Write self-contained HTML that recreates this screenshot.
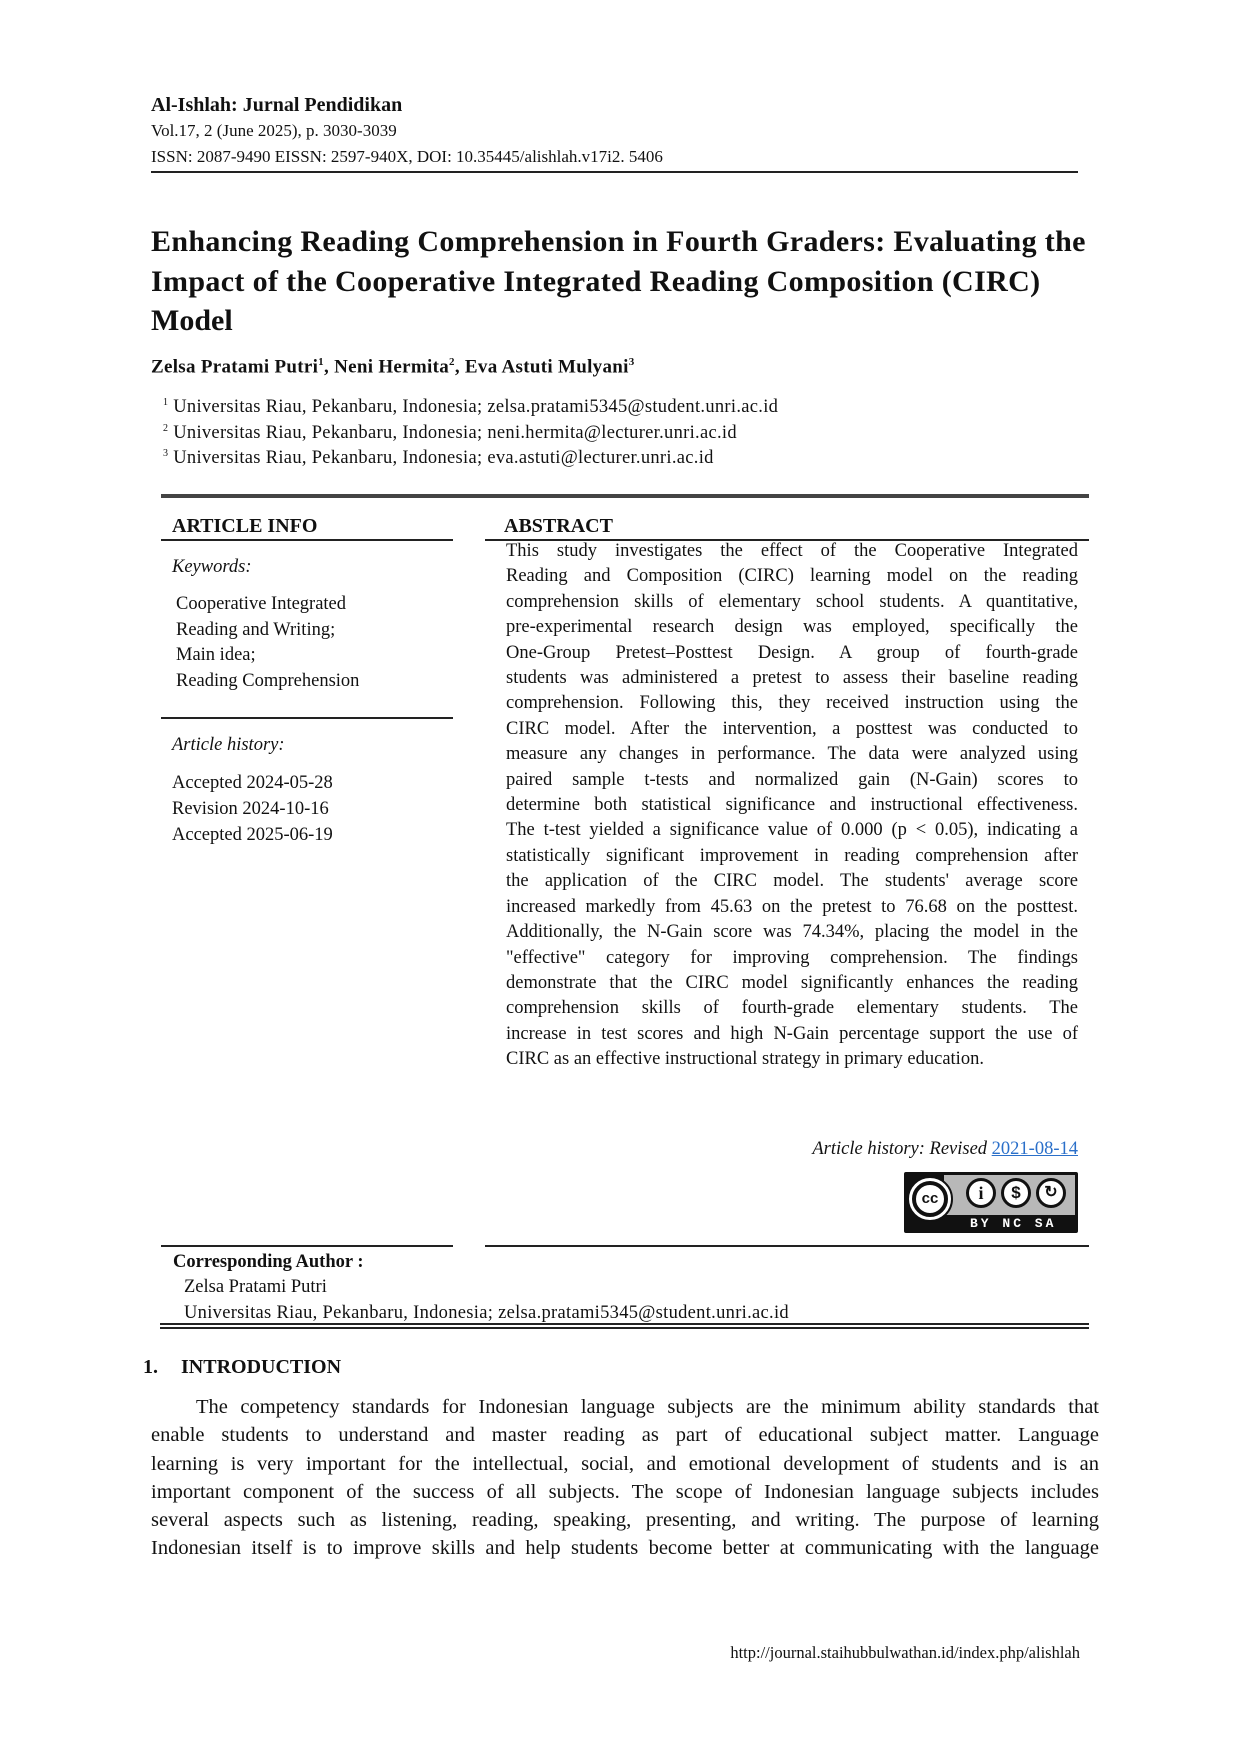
<!DOCTYPE html>
<html><head><meta charset="utf-8"><style>
body{margin:0;background:#fff;}
#p{position:relative;width:1240px;height:1754px;overflow:hidden;font-family:"Liberation Serif",serif;color:#111;}
.a{position:absolute;white-space:nowrap;line-height:1;}
.L{white-space:nowrap;text-align:justify;text-align-last:justify;}
.r{position:absolute;background:#222;}
</style></head><body><div id="p">
<div class="a" style="left:151px;top:95px;font-size:20px;font-weight:bold">Al-Ishlah: Jurnal Pendidikan</div>
<div class="a" style="left:151px;top:122px;font-size:17px">Vol.17, 2 (June 2025), p. 3030-3039</div>
<div class="a" style="left:151px;top:148px;font-size:17px">ISSN: 2087-9490 EISSN: 2597-940X, DOI: 10.35445/alishlah.v17i2. 5406</div>
<div class="r" style="left:151px;top:171px;width:927px;height:2px"></div>

<div class="a" style="left:151px;top:227px;font-size:30px;font-weight:bold;letter-spacing:0.35px">Enhancing Reading Comprehension in Fourth Graders: Evaluating the</div>
<div class="a" style="left:151px;top:267px;font-size:30px;font-weight:bold;letter-spacing:0.35px">Impact of the Cooperative Integrated Reading Composition (CIRC)</div>
<div class="a" style="left:151px;top:306px;font-size:30px;font-weight:bold">Model</div>

<div class="a" style="left:151px;top:357px;font-size:19px;font-weight:bold;letter-spacing:0.3px">Zelsa Pratami Putri<sup style="font-size:11px">1</sup>, Neni Hermita<sup style="font-size:11px">2</sup>, Eva Astuti Mulyani<sup style="font-size:11px">3</sup></div>
<div class="a" style="left:163px;top:398px;font-size:18.5px;letter-spacing:0.3px"><sup style="font-size:10px">1</sup> Universitas Riau, Pekanbaru, Indonesia; zelsa.pratami5345@student.unri.ac.id</div>
<div class="a" style="left:163px;top:424px;font-size:18.5px;letter-spacing:0.3px"><sup style="font-size:10px">2</sup> Universitas Riau, Pekanbaru, Indonesia; neni.hermita@lecturer.unri.ac.id</div>
<div class="a" style="left:163px;top:449px;font-size:18.5px;letter-spacing:0.3px"><sup style="font-size:10px">3</sup> Universitas Riau, Pekanbaru, Indonesia; eva.astuti@lecturer.unri.ac.id</div>

<div class="r" style="left:161px;top:494px;width:928px;height:4px;background:#444"></div>
<div class="a" style="left:172px;top:516px;font-size:20px;font-weight:bold">ARTICLE INFO</div>
<div class="a" style="left:504px;top:516px;font-size:20px;font-weight:bold">ABSTRACT</div>
<div class="r" style="left:161px;top:539px;width:292px;height:2px"></div>
<div class="r" style="left:485px;top:539px;width:604px;height:2px"></div>

<div class="a" style="left:172px;top:558px;font-size:18.5px;font-style:italic">Keywords:</div>
<div class="a" style="left:176px;top:595px;font-size:18.5px">Cooperative Integrated</div>
<div class="a" style="left:176px;top:621px;font-size:18.5px">Reading and Writing;</div>
<div class="a" style="left:176px;top:646px;font-size:18.5px">Main idea;</div>
<div class="a" style="left:176px;top:672px;font-size:18.5px">Reading Comprehension</div>
<div class="r" style="left:161px;top:717px;width:292px;height:2px"></div>
<div class="a" style="left:172px;top:736px;font-size:18.5px;font-style:italic">Article history:</div>
<div class="a" style="left:172px;top:774px;font-size:18.5px">Accepted 2024-05-28</div>
<div class="a" style="left:172px;top:800px;font-size:18.5px">Revision 2024-10-16</div>
<div class="a" style="left:172px;top:826px;font-size:18.5px">Accepted 2025-06-19</div>

<div style="position:absolute;left:506px;top:539px;width:572px;font-size:18.5px;line-height:25.4px">
<div class="L">This study investigates the effect of the Cooperative Integrated</div>
<div class="L">Reading and Composition (CIRC) learning model on the reading</div>
<div class="L">comprehension skills of elementary school students. A quantitative,</div>
<div class="L">pre-experimental research design was employed, specifically the</div>
<div class="L">One-Group Pretest–Posttest Design. A group of fourth-grade</div>
<div class="L">students was administered a pretest to assess their baseline reading</div>
<div class="L">comprehension. Following this, they received instruction using the</div>
<div class="L">CIRC model. After the intervention, a posttest was conducted to</div>
<div class="L">measure any changes in performance. The data were analyzed using</div>
<div class="L">paired sample t-tests and normalized gain (N-Gain) scores to</div>
<div class="L">determine both statistical significance and instructional effectiveness.</div>
<div class="L">The t-test yielded a significance value of 0.000 (p &lt; 0.05), indicating a</div>
<div class="L">statistically significant improvement in reading comprehension after</div>
<div class="L">the application of the CIRC model. The students' average score</div>
<div class="L">increased markedly from 45.63 on the pretest to 76.68 on the posttest.</div>
<div class="L">Additionally, the N-Gain score was 74.34%, placing the model in the</div>
<div class="L">"effective" category for improving comprehension. The findings</div>
<div class="L">demonstrate that the CIRC model significantly enhances the reading</div>
<div class="L">comprehension skills of fourth-grade elementary students. The</div>
<div class="L">increase in test scores and high N-Gain percentage support the use of</div>
<div style="white-space:nowrap">CIRC as an effective instructional strategy in primary education.</div>
</div>

<div class="a" style="right:162px;top:1140px;font-size:18.5px;font-style:italic">Article history: Revised <span style="color:#2a6fc9;text-decoration:underline;font-style:normal">2021-08-14</span></div>
<div style="position:absolute;left:904px;top:1172px;width:174px;height:61px;background:#111;border-radius:2px">
 <div style="position:absolute;left:40px;top:3px;width:131px;height:40px;background:#b8b8b8"></div>
 <div style="position:absolute;left:3px;top:4px;width:46px;height:46px;border-radius:50%;background:#fff;border:2px solid #111;box-sizing:border-box"></div>
 <div style="position:absolute;left:8px;top:9px;width:36px;height:36px;border-radius:50%;background:#fff;border:4px solid #111;box-sizing:border-box;font:bold 15px 'Liberation Sans',sans-serif;text-align:center;line-height:28px">cc</div>
 <div style="position:absolute;left:62px;top:6px;width:30px;height:30px;border-radius:50%;background:#fff;border:3px solid #111;box-sizing:border-box;font:bold 18px 'Liberation Serif';text-align:center;line-height:24px">i</div>
 <div style="position:absolute;left:97px;top:6px;width:30px;height:30px;border-radius:50%;background:#fff;border:3px solid #111;box-sizing:border-box;font:bold 17px 'Liberation Sans';text-align:center;line-height:24px">$</div>
 <div style="position:absolute;left:132px;top:6px;width:30px;height:30px;border-radius:50%;background:#fff;border:3px solid #111;box-sizing:border-box;font:bold 16px 'Liberation Sans';text-align:center;line-height:24px">↻</div>
 <div style="position:absolute;left:66px;top:44px;color:#fff;font:bold 13px 'Liberation Mono',monospace;letter-spacing:3px;white-space:nowrap">BY NC SA</div>
</div>

<div class="r" style="left:161px;top:1245px;width:292px;height:2px"></div>
<div class="r" style="left:485px;top:1245px;width:604px;height:2px"></div>
<div class="a" style="left:173px;top:1253px;font-size:18.5px;font-weight:bold">Corresponding Author :</div>
<div class="a" style="left:184px;top:1278px;font-size:18.5px">Zelsa Pratami Putri</div>
<div class="a" style="left:184px;top:1304px;font-size:18.5px;letter-spacing:0.3px">Universitas Riau, Pekanbaru, Indonesia; zelsa.pratami5345@student.unri.ac.id</div>
<div class="r" style="left:160px;top:1323px;width:929px;height:1.5px"></div>
<div class="r" style="left:160px;top:1327px;width:929px;height:1.5px"></div>

<div class="a" style="left:143px;top:1357px;font-size:20px;font-weight:bold">1.</div>
<div class="a" style="left:181px;top:1357px;font-size:20px;font-weight:bold">INTRODUCTION</div>

<div style="position:absolute;left:151px;top:1393px;width:948px;font-size:20.5px;line-height:28.3px">
<div class="L" style="padding-left:45px">The competency standards for Indonesian language subjects are the minimum ability standards that</div>
<div class="L">enable students to understand and master reading as part of educational subject matter. Language</div>
<div class="L">learning is very important for the intellectual, social, and emotional development of students and is an</div>
<div class="L">important component of the success of all subjects. The scope of Indonesian language subjects includes</div>
<div class="L">several aspects such as listening, reading, speaking, presenting, and writing. The purpose of learning</div>
<div class="L">Indonesian itself is to improve skills and help students become better at communicating with the language</div>
</div>

<div class="a" style="right:160px;top:1645px;font-size:16.5px">http://journal.staihubbulwathan.id/index.php/alishlah</div>
</div></body></html>
